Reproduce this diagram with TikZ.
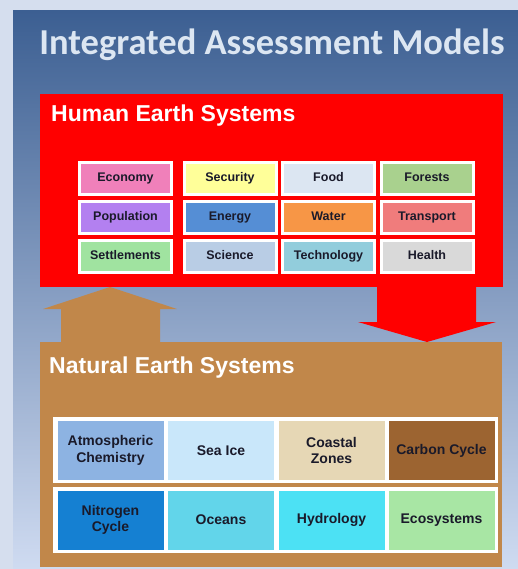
\documentclass[tikz,border=0pt]{standalone}
\usepackage{fontspec}
\setmainfont{Liberation Sans}
\newfontfamily\titlefont{Carlito}
\definecolor{pagebg}{HTML}{D5DEEE}
\definecolor{paneltop}{HTML}{3C5F92}
\definecolor{panelmid}{HTML}{A9BFE3}
\definecolor{panelbot}{HTML}{CFDBF1}
\definecolor{titletext}{HTML}{DCE6F2}
\definecolor{celltext}{HTML}{1A1A2A}
\definecolor{humred}{HTML}{FF0000}
\definecolor{nattan}{HTML}{C1874A}
\definecolor{ceco}{HTML}{F080BA}
\definecolor{csec}{HTML}{FFFF99}
\definecolor{cfood}{HTML}{DCE6F2}
\definecolor{cfor}{HTML}{A9D18E}
\definecolor{cpop}{HTML}{B380F0}
\definecolor{cene}{HTML}{558ED5}
\definecolor{cwat}{HTML}{F79646}
\definecolor{ctra}{HTML}{F07C7C}
\definecolor{cset}{HTML}{A0E3A0}
\definecolor{csci}{HTML}{B9CDE5}
\definecolor{ctec}{HTML}{92CDDC}
\definecolor{chea}{HTML}{D9D9D9}
\definecolor{catm}{HTML}{8DB3E2}
\definecolor{cice}{HTML}{C9E7FA}
\definecolor{ccoa}{HTML}{E6D7B5}
\definecolor{ccar}{HTML}{9C6431}
\definecolor{cnit}{HTML}{1580D2}
\definecolor{coce}{HTML}{62D5EA}
\definecolor{chyd}{HTML}{4CE1F4}
\definecolor{cecs}{HTML}{A8E6A4}
\begin{document}
\begin{tikzpicture}[x=1pt,y=-1pt,
  humfill/.style={fill=humred},
  natfill/.style={fill=nattan},
  bigbox/.style={inner sep=0pt,outer sep=0pt},
  heading/.style={anchor=base west,text=white,inner sep=0pt,
    font=\fontsize{23}{25}\selectfont\bfseries},
  hcell/.style={draw=white,line width=3pt,minimum width=92pt,minimum height=32pt,
    inner sep=0pt,text height=0.72em,text depth=0.2em,text=celltext,
    font=\fontsize{12.5}{14}\selectfont\bfseries},
  ncell/.style={minimum width=106pt,minimum height=59pt,inner sep=0pt,align=center,
    text=celltext,font=\fontsize{14}{16.5}\selectfont\bfseries}]
 \useasboundingbox (0,0) rectangle (518,569);
 \fill[pagebg] (0,0) rectangle (518,569);
 \shade[top color=paneltop,middle color=panelmid,bottom color=panelbot]
   (13,11) rectangle (518,569);
 \node[anchor=base,inner sep=0pt,text=titletext,font=\titlefont\fontsize{36.5}{40}\selectfont\bfseries]
   (iam) at (272,55) {Integrated Assessment Models};

 \node[bigbox,humfill,minimum width=463pt,minimum height=193pt] (human) at (271.5,190.5) {};
 \node[bigbox,natfill,minimum width=462pt,minimum height=225pt] (nat) at (271,454.5) {};
 \node[heading] (humtitle) at (51,122) {Human Earth Systems};
 \node[heading] (nattitle) at (49,373) {Natural Earth Systems};

 \fill[natfill] (61,0|-nat.north) -- (61,309) -- (43,309) -- (110,0|-human.south)
   -- (177,309) -- (160,309) -- (160,0|-nat.north) -- cycle;
 \fill[humfill] (377,0|-human.south) -- (377,322) -- (358,322) -- (427,0|-nat.north)
   -- (496,322) -- (476,322) -- (476,0|-human.south) -- cycle;

 \foreach \name/\txt/\col/\xx/\yy in {
   eco/Economy/ceco/125.5/178.5, sec/Security/csec/230/178.5,
   food/Food/cfood/328.5/178.5, for/Forests/cfor/427/178.5,
   pop/Population/cpop/125.5/217.5, ene/Energy/cene/230/217.5,
   wat/Water/cwat/328.5/217.5, tra/Transport/ctra/427/217.5,
   set/Settlements/cset/125.5/256.5, sci/Science/csci/230/256.5,
   tec/Technology/ctec/328.5/256.5, hea/Health/chea/427/256.5}
  {\node[hcell,fill=\col] (\name) at (\xx,\yy) {\txt};}

 \node[bigbox,fill=white,minimum width=445pt,minimum height=66pt] (rowA) at (275.5,450) {};
 \node[bigbox,fill=white,minimum width=445pt,minimum height=66pt] (rowB) at (275.5,520) {};
 \foreach \name/\txt/\col/\xx/\yy in {
   atm/Atmospheric\\Chemistry/catm/110.5/450.5, ice/Sea Ice/cice/221/450.5,
   coa/Coastal\\Zones/ccoa/331.5/450.5, car/Carbon Cycle/ccar/441.5/450.5,
   nit/Nitrogen\\Cycle/cnit/110.5/520, oce/Oceans/coce/221/520,
   hyd/Hydrology/chyd/331.5/520, ecs/Ecosystems/cecs/441.5/520}
  {\node[ncell,fill=\col] (\name) at (\xx,\yy) {\txt};}
\end{tikzpicture}
\end{document}
